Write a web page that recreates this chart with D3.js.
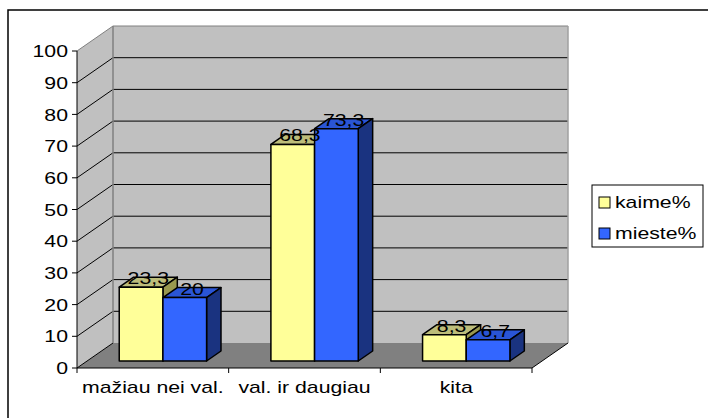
<!DOCTYPE html>
<meta charset="utf-8">
<style>
body { margin: 0; background: #fff; }
text { font-family: "Liberation Sans", Arial, sans-serif; font-size: 17px; fill: #000; }
</style>
<body></body>
<script src="https://d3js.org/d3.v7.min.js"></script>
<script>

var categories = ["mažiau nei val.", "val. ir daugiau", "kita"];
var seriesNames = ["kaime%", "mieste%"];
var kaime = [23.3, 68.3, 8.3];
var mieste = [20, 73.3, 6.7];
var yTicks = [0, 10, 20, 30, 40, 50, 60, 70, 80, 90, 100];

var colors = {
  "kaime%": { front: "#ffff99", top: "#bdbd7a", side: "#99994f" },
  "mieste%": { front: "#3366ff", top: "#2a55d5", side: "#1a3380" }
};

var width = 708, height = 418;
var plotL = 77, plotR = 532, plotB = 368, plotT = 51;
var depthX = 36, depthY = -25;       // full floor depth
var barF0 = 0.28, barF1 = 0.68;      // bar front/back depth fraction
var stretch = 1.25;                  // the reference font is drawn wide

var svg = d3.select("body").append("svg")
    .attr("width", width)
    .attr("height", height);

function addText(parent, x, y, str, anchor, dy) {
  return parent.append("text")
      .attr("transform", "translate(" + x + "," + y + ") scale(" + stretch + ",1)")
      .attr("text-anchor", anchor || "start")
      .attr("dy", dy || 0)
      .text(str);
}

// outer frame (cut off at right and bottom)
svg.append("rect")
    .attr("x", 8).attr("y", 10)
    .attr("width", 740).attr("height", 440)
    .attr("fill", "none").attr("stroke", "#000").attr("stroke-width", 1.5);

var y = d3.scaleLinear().domain([0, 100]).range([plotB, plotT]);
var x0 = d3.scaleBand().domain(categories).range([plotL, plotR]);
var groupW = x0.bandwidth() * 0.576;
var x1 = d3.scaleBand().domain(seriesNames).range([0, groupW]);

var walls = svg.append("g");

// side wall
walls.append("polygon")
    .attr("points", [[plotL, plotB], [plotL, plotT], [plotL + depthX, plotT + depthY], [plotL + depthX, plotB + depthY]].join(" "))
    .attr("fill", "#c0c0c0");
// back wall
walls.append("polygon")
    .attr("points", [[plotL + depthX, plotT + depthY], [plotR + depthX, plotT + depthY], [plotR + depthX, plotB + depthY], [plotL + depthX, plotB + depthY]].join(" "))
    .attr("fill", "#c0c0c0");
// floor
walls.append("polygon")
    .attr("points", [[plotL, plotB], [plotR, plotB], [plotR + depthX, plotB + depthY], [plotL + depthX, plotB + depthY]].join(" "))
    .attr("fill", "#808080");

// gridlines
yTicks.forEach(function(t) {
  var yy = y(t);
  var c = (t === 100) ? "#808080" : "#000";
  walls.append("line")
      .attr("x1", plotL).attr("y1", yy)
      .attr("x2", plotL + depthX).attr("y2", yy + depthY)
      .attr("stroke", c).attr("stroke-width", 1);
  if (t > 0) {
    walls.append("line")
        .attr("x1", plotL + depthX).attr("y1", yy + depthY)
        .attr("x2", plotR + depthX).attr("y2", yy + depthY)
        .attr("stroke", c).attr("stroke-width", 1);
  }
});

// back wall edges
walls.append("line")
    .attr("x1", plotL + depthX).attr("y1", plotT + depthY)
    .attr("x2", plotL + depthX).attr("y2", plotB + depthY)
    .attr("stroke", "#808080").attr("stroke-width", 1.5);
walls.append("line")
    .attr("x1", plotR + depthX).attr("y1", plotT + depthY)
    .attr("x2", plotR + depthX).attr("y2", plotB + depthY)
    .attr("stroke", "#a0a0a0").attr("stroke-width", 1.5);

// axis lines
walls.append("line")
    .attr("x1", plotL).attr("y1", plotT).attr("x2", plotL).attr("y2", plotB)
    .attr("stroke", "#000");
walls.append("line")
    .attr("x1", plotL).attr("y1", plotB).attr("x2", plotR).attr("y2", plotB)
    .attr("stroke", "#000");
walls.append("line")
    .attr("x1", plotR).attr("y1", plotB).attr("x2", plotR + depthX).attr("y2", plotB + depthY)
    .attr("stroke", "#000");

// y ticks + labels
yTicks.forEach(function(t) {
  walls.append("line")
      .attr("x1", plotL - 5).attr("y1", y(t)).attr("x2", plotL).attr("y2", y(t))
      .attr("stroke", "#000");
  addText(svg, plotL - 9, y(t), t, "end", "0.36em");
});

// x ticks + labels
for (var i = 0; i <= categories.length; i++) {
  var xx = plotL + i * x0.step();
  walls.append("line")
      .attr("x1", xx).attr("y1", plotB).attr("x2", xx).attr("y2", plotB + 5)
      .attr("stroke", "#000");
}
categories.forEach(function(c) {
  addText(svg, x0(c) + x0.bandwidth() / 2, plotB + 25, c, "middle");
});

// bars
var bars = svg.append("g");
var labels = [];
var fx = barF0 * depthX, fy = barF0 * depthY;
var bx = (barF1 - barF0) * depthX, by = (barF1 - barF0) * depthY;

categories.forEach(function(c, i) {
  [kaime[i], mieste[i]].forEach(function(v, j) {
    var s = seriesNames[j];
    var xl = x0(c) + (x0.bandwidth() - groupW) / 2 + x1(s) + fx;
    var xr = xl + x1.bandwidth();
    var yb = plotB + fy;
    var yt = y(v) + fy;
    var col = colors[s];
    var g = bars.append("g")
        .attr("stroke", "#000").attr("stroke-width", 1.5).attr("stroke-linejoin", "round");
    g.append("polygon")
        .attr("points", [[xl, yt], [xr, yt], [xr + bx, yt + by], [xl + bx, yt + by]].join(" "))
        .attr("fill", col.top);
    g.append("polygon")
        .attr("points", [[xr, yt], [xr + bx, yt + by], [xr + bx, yb + by], [xr, yb]].join(" "))
        .attr("fill", col.side);
    g.append("rect")
        .attr("x", xl).attr("y", yt)
        .attr("width", xr - xl).attr("height", yb - yt)
        .attr("fill", col.front);
    labels.push({ x: (xl + xr) / 2 + bx / 2, y: yt - 3, t: String(v).replace(".", ",") });
  });
});

var labelG = svg.append("g");
labels.forEach(function(d) {
  addText(labelG, d.x, d.y, d.t, "middle");
});

// legend
var legend = svg.append("g");
legend.append("rect")
    .attr("x", 592).attr("y", 185)
    .attr("width", 111).attr("height", 62)
    .attr("fill", "#fff").attr("stroke", "#000").attr("stroke-width", 1);
seriesNames.forEach(function(s, i) {
  var ly = 202 + i * 31;
  legend.append("rect")
      .attr("x", 599).attr("y", ly - 5)
      .attr("width", 11).attr("height", 11)
      .attr("fill", colors[s].front).attr("stroke", "#000").attr("stroke-width", 1);
  addText(legend, 615, ly, s, "start", "0.36em");
});

</script>
